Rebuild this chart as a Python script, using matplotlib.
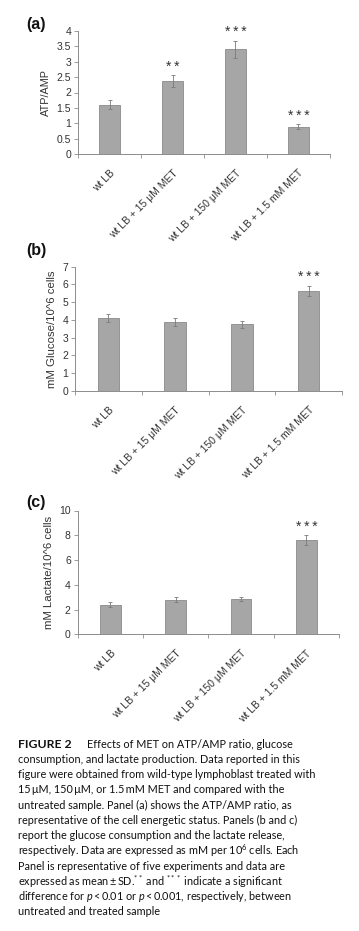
import matplotlib
matplotlib.use("Agg")
import matplotlib.pyplot as plt
from matplotlib.transforms import ScaledTranslation
import numpy as np

categories = ["wt LB", "wt LB + 15 \u03bcM MET", "wt LB + 150 \u03bcM MET", "wt LB + 1.5 mM MET"]

atp = [1.60, 2.37, 3.40, 0.89]
atp_err = [0.14, 0.20, 0.29, 0.09]
atp_sig = ["", "**", "***", "***"]
atp_ticks = [0, 0.5, 1, 1.5, 2, 2.5, 3, 3.5, 4]
atp_tick_labels = ["0", "0.5", "1", "1.5", "2", "2.5", "3", "3.5", "4"]

glucose = [4.09, 3.90, 3.77, 5.63]
glucose_err = [0.22, 0.22, 0.20, 0.30]
glucose_sig = ["", "", "", "***"]
glucose_ticks = [0, 1, 2, 3, 4, 5, 6, 7]

lactate = [2.40, 2.80, 2.85, 7.60]
lactate_err = [0.18, 0.18, 0.18, 0.40]
lactate_sig = ["", "", "", "***"]
lactate_ticks = [0, 2, 4, 6, 8, 10]

caption_lines = [
    "consumption, and lactate production. Data reported in this",
    "figure were obtained from wild-type lymphoblast treated with",
    "15\u2009\u03bcM, 150\u2009\u03bcM, or 1.5\u2009mM MET and compared with the",
    "untreated sample. Panel (a) shows the ATP/AMP ratio, as",
    "representative of the cell energetic status. Panels (b and c)",
    "report the glucose consumption and the lactate release,",
    "respectively. Data are expressed as mM per 10$^{6}$ cells. Each",
    "Panel is representative of five experiments and data are",
    "expressed as mean\u2009\u00b1\u2009SD.$^{**}$ and $^{***}$ indicate a significant",
    "difference for $p$\u2009<\u20090.01 or $p$\u2009<\u20090.001, respectively, between",
    "untreated and treated sample",
]

plt.rcParams['font.family'] = ['Liberation Sans', 'DejaVu Sans']
plt.rcParams['mathtext.fontset'] = 'custom'
plt.rcParams['mathtext.rm'] = 'Lato'
plt.rcParams['mathtext.it'] = 'Lato:italic'
plt.rcParams['mathtext.bf'] = 'Lato:bold'

W, H = 359, 931
fig = plt.figure(figsize=(W / 100, H / 100), dpi=100)

BAR = '#a6a6a6'
EDGE = '#8a8a8a'
AX = '#8c8c8c'
TXT = '#333333'
FS = 7.5


def px_axes(l, r, t, b):
    return fig.add_axes([l / W, 1 - b / H, (r - l) / W, (b - t) / H])


def panel(ax, vals, errs, sig, ticks, ylabel, ymax, ticklabels=None, ylabel_fs=8):
    x = np.arange(len(categories))
    ax.bar(x, vals, width=0.32, color=BAR, edgecolor=EDGE, linewidth=0.6, zorder=2)
    ax.errorbar(x, vals, yerr=errs, fmt='none', ecolor='#7a7a7a', elinewidth=0.6,
                capsize=1.2, capthick=0.6, zorder=3)
    for xi, v, e, s in zip(x, vals, errs, sig):
        if s:
            ax.text(xi, v + e + ymax * 0.01, "\u2009".join(s), ha='center', va='bottom',
                    fontsize=10, color=TXT)
    ax.set_xlim(-0.5, len(categories) - 0.5)
    ax.set_ylim(0, ymax)
    ax.set_yticks(ticks)
    if ticklabels is not None:
        ax.set_yticklabels(ticklabels)
    ax.set_xticks(x)
    ax.set_xticklabels(categories, rotation=45, ha='right', rotation_mode='anchor',
                       fontsize=FS, color=TXT)
    off = ScaledTranslation(3 / 100, 0, fig.dpi_scale_trans)
    for lbl in ax.get_xticklabels():
        lbl.set_transform(lbl.get_transform() + off)
    ax.set_xticks(np.arange(-0.5, len(categories), 1.0), minor=True)
    ax.tick_params(axis='x', which='major', length=0, pad=10)
    ax.tick_params(axis='x', which='minor', length=3, color=AX, width=0.6)
    ax.tick_params(axis='y', length=3, color=AX, width=0.6, labelsize=FS,
                   labelcolor=TXT, pad=2)
    for s in ['top', 'right']:
        ax.spines[s].set_visible(False)
    for s in ['left', 'bottom']:
        ax.spines[s].set_color(AX)
        ax.spines[s].set_linewidth(0.7)
    ax.set_ylabel(ylabel, fontsize=ylabel_fs, color=TXT, labelpad=4)
    ax.patch.set_alpha(0)


ax1 = px_axes(78, 330, 31, 154)
panel(ax1, atp, atp_err, atp_sig, atp_ticks, "ATP/AMP", 4, atp_tick_labels, 7.8)

ax2 = px_axes(75, 342, 266.7, 391)
panel(ax2, glucose, glucose_err, glucose_sig, glucose_ticks, "mM Glucose/10^6 cells", 7,
      None, 8.2)

ax3 = px_axes(77.7, 339, 510.5, 634.3)
panel(ax3, lactate, lactate_err, lactate_sig, lactate_ticks, "mM Lactate/10^6 cells", 10,
      None, 8.2)

for lab, y in [("(a)", 25), ("(b)", 250), ("(c)", 503)]:
    fig.text(26 / W, 1 - y / H, lab, fontsize=11.5, fontweight='bold', va='center',
             ha='left', color='#111111')

CFS = 7.8
y0 = 744
dy = 15.25
fig.text(18 / W, 1 - y0 / H, "FIGURE 2", fontsize=8.8, fontweight='bold',
         family='Lato', va='center', ha='left', color='#111111')
fig.text(87 / W, 1 - y0 / H, "Effects of MET on ATP/AMP ratio, glucose", fontsize=CFS,
         family='Lato', va='center', ha='left', color='#111111')
for i, line in enumerate(caption_lines, start=1):
    fig.text(18 / W, 1 - (y0 + i * dy) / H, line, fontsize=CFS, family='Lato',
             va='center', ha='left', color='#111111')

fig.savefig("out.png", dpi=100)
